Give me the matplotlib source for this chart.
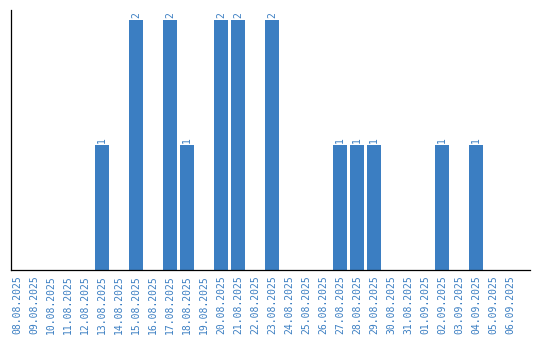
import matplotlib
matplotlib.use('Agg')
import matplotlib.pyplot as plt

dates = ['08.08.2025', '09.08.2025', '10.08.2025', '11.08.2025', '12.08.2025',
         '13.08.2025', '14.08.2025', '15.08.2025', '16.08.2025', '17.08.2025',
         '18.08.2025', '19.08.2025', '20.08.2025', '21.08.2025', '22.08.2025',
         '23.08.2025', '24.08.2025', '25.08.2025', '26.08.2025', '27.08.2025',
         '28.08.2025', '29.08.2025', '30.08.2025', '31.08.2025', '01.09.2025',
         '02.09.2025', '03.09.2025', '04.09.2025', '05.09.2025', '06.09.2025']
counts = [0, 0, 0, 0, 0, 1, 0, 2, 0, 2, 1, 0, 2, 2, 0, 2, 0, 0, 0, 1,
          1, 1, 0, 0, 0, 1, 0, 1, 0, 0]

blue = '#3b7ec2'

fig = plt.figure(figsize=(5.4, 3.4), dpi=100)
ax = fig.add_axes([11 / 540, 70 / 340, 519 / 540, 260 / 340])

x = list(range(len(dates)))
ax.bar(x, counts, width=0.82, color=blue)

# value labels above non-zero bars
for xi, c in zip(x, counts):
    if c > 0:
        ax.text(xi, c + 0.02, str(c), rotation=90, ha='center', va='bottom',
                color=blue, fontsize=7, family='DejaVu Sans Mono')

ax.set_xlim(-0.35, 30.18)
ax.set_ylim(0, 2.08)
ax.set_xticks(x)
ax.set_xticklabels(dates, rotation=90, color=blue, fontsize=7,
                   family='DejaVu Sans Mono')
ax.tick_params(axis='x', length=0, pad=4)
ax.set_yticks([])
for side in ['top', 'right']:
    ax.spines[side].set_visible(False)
for side in ['left', 'bottom']:
    ax.spines[side].set_color('black')
    ax.spines[side].set_linewidth(0.9)

fig.savefig('out.png', dpi=100)
